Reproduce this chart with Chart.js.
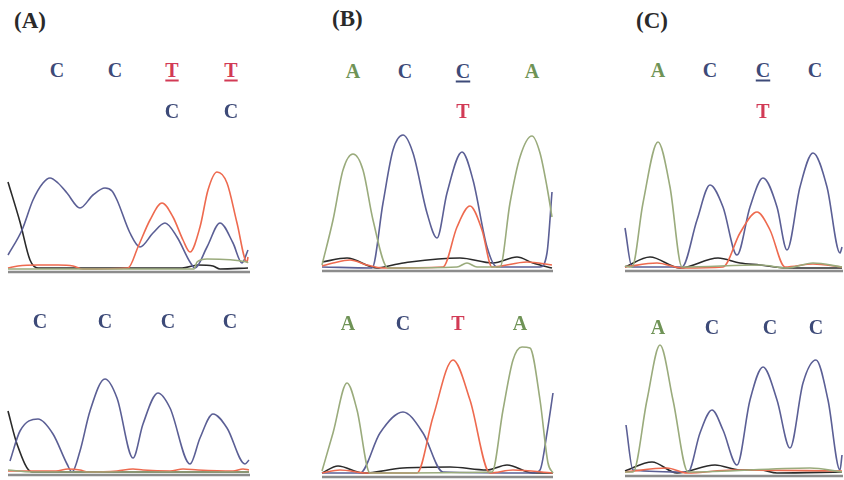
<!DOCTYPE html>
<html>
<head>
<meta charset="utf-8">
<script src="https://cdn.jsdelivr.net/npm/chart.js@4"></script>
<style>
  body { margin: 0; background: #fff; }
  #fig { position: relative; width: 844px; height: 480px; overflow: hidden; }
  canvas { position: absolute; }
  .tag { position: absolute; font: bold 23px "Liberation Serif", serif; color: #2a2a2a; }
  .call { position: absolute; font: bold 20px "Liberation Serif", serif; transform: translate(-50%, -50%); }
  .u { text-decoration: underline; text-underline-offset: 3px; }
</style>
</head>
<body>
<div id="fig"></div>
<script>
// traces: [scan position, signal], signal = height above baseline
const aTopBlue = [[0,14],[14,39],[25,69],[35,86],[42,91],[50,86],[59,76],[72,61],[85,74],[97,81],[104,78],[109,69],[122,36],[132,22],[145,36],[157,46],[169,32],[182,7],[187,1],[199,22],[212,46],[225,26],[234,6],[240,19]];
const aTopRed = [[0,1],[10,3],[30,4],[50,4],[65,3],[75,0],[120,1],[130,22],[142,49],[154,66],[165,52],[175,29],[182,17],[192,42],[200,79],[209,97],[219,86],[229,46],[239,7],[240,12]];
const aTopGreen = [[0,0],[186,0],[189,7],[199,10],[239,7],[240,6]];
const aTopBlack = [[0,87],[12,47],[22,9],[30,1],[174,1],[190,4],[205,3],[212,0],[240,1]];

const aBotBlue = [[2,11],[12,41],[30,53],[45,38],[59,8],[64,0],[72,21],[82,61],[97,93],[109,74],[125,14],[135,48],[150,79],[162,64],[182,8],[192,34],[205,58],[219,44],[237,8],[241,12]];
const aBotRed = [[0,1],[48,1],[60,3],[72,2],[80,0],[109,1],[125,3],[135,2],[162,1],[175,3],[190,2],[225,1],[235,3],[241,2]];
const aBotGreen = [[0,2],[24,0],[241,0]];
const aBotBlack = [[0,61],[9,28],[24,0],[241,0]];

const bTopGreen = [[0,3],[11,48],[21,98],[31,114],[41,98],[51,48],[66,0],[135,1],[145,5],[155,1],[178,1],[188,65],[198,111],[210,132],[218,115],[225,81],[230,51]];
const bTopBlue = [[0,1],[50,0],[61,65],[71,118],[81,133],[91,115],[105,55],[115,30],[125,75],[140,116],[151,88],[165,21],[175,1],[218,1],[225,15],[230,76]];
const bTopRed = [[0,2],[11,5],[28,8],[45,3],[61,0],[121,1],[135,41],[148,62],[160,38],[170,1],[205,6],[230,3]];
const bTopBlack = [[0,6],[25,10],[55,0],[71,3],[88,6],[138,10],[171,5],[195,11],[211,5],[230,0]];

const bBotGreen = [[0,3],[11,41],[25,91],[35,64],[48,1],[170,2],[181,64],[191,114],[200,127],[208,126],[218,74],[226,11],[231,1]];
const bBotBlue = [[0,1],[38,1],[58,41],[81,62],[101,41],[121,2],[211,1],[218,4],[225,41],[231,81]];
const bBotRed = [[0,1],[18,4],[45,1],[95,1],[111,57],[131,114],[148,74],[168,1],[191,4],[231,1]];
const bBotBlack = [[0,1],[16,8],[41,1],[81,6],[128,7],[165,4],[185,9],[211,1],[231,1]];

const cTopBlue = [[0,40],[7,1],[57,1],[72,48],[85,83],[98,61],[112,13],[125,61],[138,90],[152,61],[162,18],[175,81],[188,115],[202,81],[215,15],[217,21]];
const cTopGreen = [[0,2],[7,1],[18,65],[33,126],[45,81],[57,1],[135,3],[162,0],[188,5],[217,1]];
const cTopRed = [[0,1],[32,5],[57,0],[98,1],[115,35],[132,56],[145,38],[160,1],[188,4],[217,1]];
const cTopBlack = [[0,1],[25,11],[55,0],[93,10],[115,5],[135,3],[162,0],[217,0]];

const cBotBlue = [[1,48],[8,3],[63,1],[75,40],[87,63],[98,43],[112,8],[125,73],[138,106],[152,73],[165,25],[178,90],[191,113],[203,73],[215,3],[217,18]];
const cBotGreen = [[0,1],[8,1],[22,73],[35,128],[48,73],[63,1],[185,5],[217,1]];
const cBotRed = [[0,1],[42,5],[62,0],[108,3],[217,2]];
const cBotBlack = [[0,2],[27,11],[52,0],[90,8],[115,3],[135,3],[152,0],[217,1]];

// base calls
const aTopCalls = ['C', 'C', 'T', 'T'];
const aTopCalls2 = ['', '', 'C', 'C'];
const aBotCalls = ['C', 'C', 'C', 'C'];
const bTopCalls = ['A', 'C', 'C', 'A'];
const bTopCalls2 = ['', '', 'T', ''];
const bBotCalls = ['A', 'C', 'T', 'A'];
const cTopCalls = ['A', 'C', 'C', 'C'];
const cTopCalls2 = ['', '', 'T', ''];
const cBotCalls = ['A', 'C', 'C', 'C'];

const traceColors = { A: '#9aab7c', C: '#5b5f95', T: '#ee6a4f', G: '#2a2a2a' };
const callColors = { A: '#6f9356', C: '#3d4a78', T: '#d23a55' };

const fig = document.getElementById('fig');

const baselinePlugin = {
  id: 'baseline',
  beforeDatasetsDraw(chart) {
    const { ctx, scales } = chart;
    const y = scales.y.getPixelForValue(-3);
    ctx.save();
    ctx.strokeStyle = '#8c8c8c';
    ctx.lineWidth = 2.5;
    ctx.beginPath();
    ctx.moveTo(scales.x.getPixelForValue(0), y);
    ctx.lineTo(scales.x.getPixelForValue(chart.options.scanWidth), y);
    ctx.stroke();
    ctx.restore();
  },
};

function toXY(arr) {
  return arr.map(([x, y]) => ({ x, y }));
}

function makePanel(left, baseline, width, traces) {
  const c = document.createElement('canvas');
  c.width = width + 8;
  c.height = 160;
  c.style.left = left - 4 + 'px';
  c.style.top = baseline - 150 + 'px';
  fig.appendChild(c);

  new Chart(c, {
    type: 'line',
    data: {
      datasets: traces.map(([base, pts]) => ({
        data: toXY(pts),
        borderColor: traceColors[base],
        borderWidth: 1.6,
        pointRadius: 0,
        fill: false,
        cubicInterpolationMode: 'monotone',
      })),
    },
    options: {
      scanWidth: width,
      responsive: false,
      animation: false,
      layout: { padding: 0 },
      scales: {
        x: { type: 'linear', display: false, min: -4, max: width + 4 },
        y: { display: false, min: -10, max: 150 },
      },
      plugins: { legend: { display: false }, tooltip: { enabled: false } },
    },
    plugins: [baselinePlugin],
  });
}

function addCalls(calls, xs, y, underline) {
  calls.forEach((b, i) => {
    if (!b) return;
    const s = document.createElement('span');
    s.className = 'call' + (underline && underline[i] ? ' u' : '');
    s.textContent = b;
    s.style.color = callColors[b];
    s.style.left = xs[i] + 'px';
    s.style.top = y + 'px';
    fig.appendChild(s);
  });
}

function addTag(text, x, y) {
  const s = document.createElement('span');
  s.className = 'tag';
  s.textContent = text;
  s.style.left = x + 'px';
  s.style.top = y + 'px';
  fig.appendChild(s);
}

// (A)
makePanel(8, 269, 242, [['A', aTopGreen], ['T', aTopRed], ['C', aTopBlue], ['G', aTopBlack]]);
makePanel(8, 472, 242, [['A', aBotGreen], ['T', aBotRed], ['C', aBotBlue], ['G', aBotBlack]]);
// (B)
makePanel(322, 268, 231, [['A', bTopGreen], ['T', bTopRed], ['C', bTopBlue], ['G', bTopBlack]]);
makePanel(322, 474, 231, [['A', bBotGreen], ['T', bBotRed], ['C', bBotBlue], ['G', bBotBlack]]);
// (C)
makePanel(625, 268, 218, [['A', cTopGreen], ['T', cTopRed], ['C', cTopBlue], ['G', cTopBlack]]);
makePanel(625, 473, 218, [['A', cBotGreen], ['T', cBotRed], ['C', cBotBlue], ['G', cBotBlack]]);

addTag('(A)', 14, 8);
addTag('(B)', 332, 6);
addTag('(C)', 636, 8);

addCalls(aTopCalls, [57, 115, 172, 231], 70, [0, 0, 1, 1]);
addCalls(aTopCalls2, [57, 115, 172, 231], 111);
addCalls(aBotCalls, [40, 105, 168, 230], 321);

addCalls(bTopCalls, [353, 405, 463, 532], 71, [0, 0, 1, 0]);
addCalls(bTopCalls2, [353, 405, 463, 532], 111);
addCalls(bBotCalls, [348, 403, 458, 520], 323);

addCalls(cTopCalls, [658, 710, 763, 815], 70, [0, 0, 1, 0]);
addCalls(cTopCalls2, [658, 710, 763, 815], 111);
addCalls(cBotCalls, [658, 712, 770, 816], 327);
</script>
</body>
</html>
